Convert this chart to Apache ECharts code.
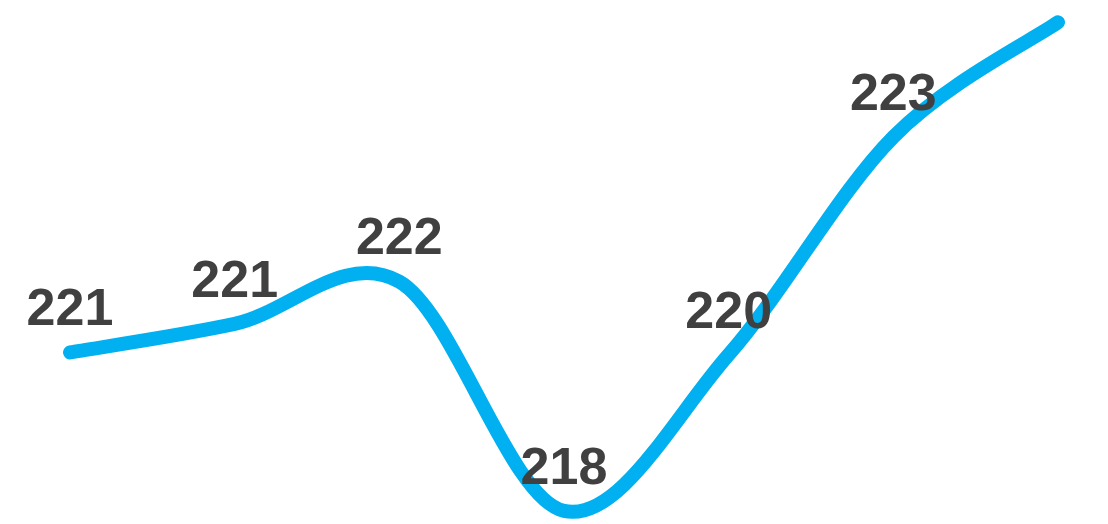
<!DOCTYPE html>
<html>
<head>
<meta charset="utf-8">
<script src="https://cdn.jsdelivr.net/npm/echarts@6/dist/echarts.min.js"></script>
<style>html,body{margin:0;padding:0;background:#fff}#c{width:1108px;height:524px}</style>
</head>
<body>
<div id="c"></div>
<script>
var categories = ['1', '2', '3', '4', '5', '6', '7'];
var values = [220.06, 220.43, 220.98, 218.0, 220.03, 222.86, 224.35];
var labels = ['221', '221', '222', '218', '220', '223', '225'];

function renderCurve(params, api) {
  if (params.dataIndex !== 0) return null;
  var pts = values.map(function (v, i) { return api.coord([i, v]); });
  var n = pts.length;
  var d = 'M' + pts[0][0] + ' ' + pts[0][1];
  for (var i = 0; i < n - 1; i++) {
    var p0 = pts[Math.max(i - 1, 0)], p1 = pts[i], p2 = pts[i + 1], p3 = pts[Math.min(i + 2, n - 1)];
    var c1x = p1[0] + (p2[0] - p0[0]) / 6, c1y = p1[1] + (p2[1] - p0[1]) / 6;
    var c2x = p2[0] - (p3[0] - p1[0]) / 6, c2y = p2[1] - (p3[1] - p1[1]) / 6;
    d += ' C' + c1x + ' ' + c1y + ' ' + c2x + ' ' + c2y + ' ' + p2[0] + ' ' + p2[1];
  }
  return {
    type: 'path',
    shape: { pathData: d },
    style: { fill: null, stroke: '#00b0f0', lineWidth: 14, lineCap: 'round', lineJoin: 'round' }
  };
}

var chart = echarts.init(document.getElementById('c'));
chart.setOption({
  animation: false,
  grid: { left: 70, right: 50, top: 0, bottom: 0 },
  xAxis: { type: 'category', data: categories, boundaryGap: false, show: false },
  yAxis: { type: 'value', min: 217.83, max: 224.64, show: false, splitLine: { show: false } },
  series: [{
    type: 'custom',
    renderItem: renderCurve,
    data: values.map(function (v, i) { return [i, v]; }),
    clip: false,
    z: 1
  }, {
    type: 'line',
    data: values,
    symbol: 'circle',
    symbolSize: 1,
    itemStyle: { color: 'rgba(0,0,0,0)' },
    lineStyle: { width: 0, opacity: 0 },
    z: 2,
    label: {
      show: true,
      position: 'top',
      distance: 15,
      formatter: function (p) { return labels[p.dataIndex]; },
      fontFamily: 'Liberation Sans',
      fontWeight: 'bold',
      fontSize: 52,
      lineHeight: 52,
      color: '#404040'
    }
  }]
});
</script>
</body>
</html>
